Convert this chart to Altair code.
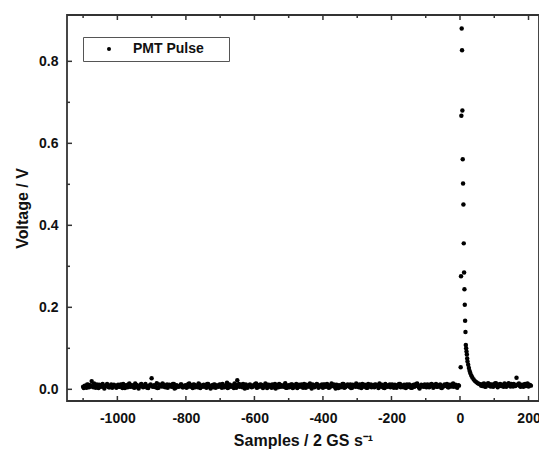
import altair as alt
import pandas as pd

# ---------------- data ----------------
series_name = "PMT Pulse"

# pre-trigger baseline, samples -1100 ... -5 every 5 samples, values in mV
baseline_start = -1100
baseline_step = 5
baseline_mv = [
    6, 9, 4, 11, 7, 20, 5, 8, 12, 3, 7, 10, 6, 9, 13, 5, 8, 4, 11, 7,
    9, 6, 12, 3, 8, 10, 5, 14, 7, 9, 4, 11, 6, 8, 13, 5, 10, 7, 3, 9,
    27, 6, 8, 15, 4, 9, 7, 11, 5, 12, 8, 10, 6, 13, 4, 9, 7, 12, 5, 8,
    10, 6, 14, 7, 3, 11, 8, 5, 12, 9, 6, 10, 4, 13, 7, 9, 5, 11, 8, 6,
    12, 4, 9, 7, 16, 5, 10, 8, 3, 11, 22, 13, 9, 5, 7, 12, 4, 10, 8, 6,
    9, 14, 5, 7, 11, 3, 8, 12, 6, 10, 4, 9, 13, 7, 5, 11, 8, 6, 15, 4,
    10, 7, 12, 5, 9, 3, 11, 8, 6, 13, 4, 10, 7, 9, 12, 5, 8, 11, 6, 9,
    4, 12, 7, 10, 5, 14, 8, 6, 11, 3, 9, 7, 13, 5, 10, 8, 12, 4, 9, 6,
    11, 5, 8, 13, 6, 10, 4, 9, 12, 7, 5, 11, 8, 14, 6, 9, 3, 10, 7, 12,
    6, 9, 11, 4, 8, 13, 7, 5, 10, 12, 6, 9, 4, 11, 8, 14, 5, 7, 10, 6,
    9, 12, 5, 8, 11, 7, 13, 6, 10, 4, 9, 12, 8, 5, 11, 7, 14, 9, 6, 10,
]
# second interleaved set, samples -1098 ... -3 every 5 samples, values in mV
baseline_b_start = -1098
baseline_b_mv = [
    3, 8, 12, 5, 10, 7, 14, 4, 9, 11, 6, 13, 2, 8, 10, 5, 12, 7, 9, 4,
    11, 6, 8, 13, 3, 9, 12, 6, 10, 5, 14, 7, 2, 11, 8, 6, 13, 4, 9, 12,
    7, 10, 5, 3, 12, 8, 14, 6, 9, 4, 11, 7, 13, 2, 10, 6, 8, 12, 5, 9,
    4, 13, 7, 10, 12, 5, 9, 14, 3, 8, 11, 6, 13, 7, 2, 10, 12, 4, 9, 11,
    7, 13, 5, 10, 3, 12, 6, 9, 14, 4, 8, 6, 11, 13, 2, 9, 7, 12, 5, 10,
    13, 4, 10, 12, 6, 9, 14, 3, 11, 7, 12, 5, 2, 10, 13, 6, 9, 11, 4, 8,
    5, 12, 3, 9, 13, 10, 6, 12, 4, 8, 11, 7, 14, 2, 6, 10, 13, 4, 9, 12,
    11, 6, 13, 4, 9, 8, 12, 2, 7, 10, 5, 13, 4, 9, 12, 6, 3, 11, 8, 14,
    6, 12, 3, 9, 11, 4, 13, 7, 5, 10, 12, 8, 3, 9, 11, 4, 13, 6, 10, 5,
    12, 4, 7, 10, 13, 5, 9, 11, 3, 8, 12, 4, 10, 6, 13, 9, 2, 11, 7, 12,
    5, 8, 11, 13, 4, 10, 6, 9, 12, 3, 7, 10, 13, 5, 8, 12, 6, 11, 4, 9,
]

# pulse samples (x) and voltages (V)
pulse_x = [2, 3, 4, 5, 6, 7, 8, 9, 10, 11, 12, 13, 14, 15, 16, 17, 18, 19, 20,
           21, 22, 24, 26, 28, 30, 33, 36, 40, 44, 48, 52, 56]
pulse_v = [0.054, 0.276, 0.667, 0.880, 0.827, 0.680, 0.561, 0.502, 0.451, 0.356,
           0.285, 0.244, 0.206, 0.167, 0.140, 0.108, 0.100, 0.092, 0.085, 0.075,
           0.068, 0.060, 0.052, 0.045, 0.040, 0.034, 0.029, 0.024, 0.020, 0.017,
           0.015, 0.013]

# post-pulse baseline, samples 60 ... 205 every 5 samples, values in mV
post_start = 60
post_step = 5
post_mv = [12, 8, 14, 6, 10, 13, 7, 11, 9, 15, 5, 12, 8, 10, 14, 6, 11, 9, 13, 7,
           10, 28, 12, 8, 11, 6, 13, 9, 7, 10]
# second interleaved set, samples 62 ... 202
post_b_start = 62
post_b_mv = [9, 13, 7, 11, 15, 8, 12, 6, 14, 10, 8, 13, 11, 6, 9, 12, 15, 7, 10, 13,
             8, 11, 14, 6, 10, 12, 8, 14, 11, 9]

# axis ticks
x_major = [-1000, -800, -600, -400, -200, 0, 200]
x_minor = [-1100, -900, -700, -500, -300, -100, 100]
y_major = [0.0, 0.2, 0.4, 0.6, 0.8]
y_minor = [0.1, 0.3, 0.5, 0.7]

x_domain = [-1147, 230.6]
y_domain = [-0.0285, 0.913]

FONT = "Liberation Sans"
TICK = "#333333"
W, H = 472, 386
MAJOR_LEN, MINOR_LEN = 5, 3   # inward tick lengths in pixels

# ---------------- tables ----------------
xs_all, ys_all = [], []
for start, vals in ((baseline_start, baseline_mv), (baseline_b_start, baseline_b_mv)):
    for i, v in enumerate(vals):
        xs_all.append(start + i * baseline_step)
        ys_all.append(v / 1000.0)
xs_all += pulse_x
ys_all += pulse_v
for start, vals in ((post_start, post_mv), (post_b_start, post_b_mv)):
    for i, v in enumerate(vals):
        xs_all.append(start + i * post_step)
        ys_all.append(v / 1000.0)

df = pd.DataFrame({"x": xs_all, "y": ys_all, "series": series_name})

# inward tick marks (bottom, top and left edges), placed through the scales
dy = (y_domain[1] - y_domain[0]) / H   # data units per pixel
dx = (x_domain[1] - x_domain[0]) / W
tick_rows = []
for vals, ln in ((x_major, MAJOR_LEN), (x_minor, MINOR_LEN)):
    for v in vals:
        tick_rows.append({"x": v, "x2": v, "y": y_domain[0], "y2": y_domain[0] + ln * dy})
        tick_rows.append({"x": v, "x2": v, "y": y_domain[1] - ln * dy, "y2": y_domain[1]})
for vals, ln in ((y_major, MAJOR_LEN), (y_minor, MINOR_LEN)):
    for v in vals:
        tick_rows.append({"x": x_domain[0], "x2": x_domain[0] + ln * dx, "y": v, "y2": v})
ticks_df = pd.DataFrame(tick_rows)

xs = alt.Scale(domain=x_domain, nice=False, zero=False)
ys = alt.Scale(domain=y_domain, nice=False, zero=False)

x_axis = alt.Axis(
    orient="bottom", values=x_major, ticks=False, domain=False, grid=False,
    labelPadding=10, labelExpr="datum.value + ''",
    labelFont=FONT, labelFontSize=14, labelFontWeight="bold", labelColor="#111",
    title="Samples / 2 GS s\u207b\u00b9", titleFont=FONT, titleFontSize=16,
    titleFontWeight="bold", titleColor="#111", titlePadding=7)
y_axis = alt.Axis(
    orient="left", values=y_major, format=".1f", ticks=False, domain=False,
    grid=False, labelPadding=9,
    labelFont=FONT, labelFontSize=14, labelFontWeight="bold", labelColor="#111",
    title="Voltage / V", titleFont=FONT, titleFontSize=16,
    titleFontWeight="bold", titleColor="#111", titlePadding=8)

points = alt.Chart(df).mark_circle(size=20, opacity=1).encode(
    x=alt.X("x:Q", scale=xs, axis=x_axis),
    y=alt.Y("y:Q", scale=ys, axis=y_axis),
    color=alt.Color("series:N", scale=alt.Scale(range=["black"]), legend=alt.Legend(
        title=None, orient="none", legendX=16, legendY=22, strokeColor="#555555",
        fillColor="white", padding=5, symbolType="circle", symbolSize=16,
        symbolOffset=14, labelFont=FONT, labelFontSize=14, labelFontWeight="bold",
        labelColor="#111", labelOffset=17,
        labelExpr="datum.label + '\u2800\u2800'")),
)

ticks = alt.Chart(ticks_df).mark_rule(color=TICK, strokeWidth=1.5).encode(
    x=alt.X("x:Q", scale=xs, axis=x_axis),
    x2="x2:Q",
    y=alt.Y("y:Q", scale=ys, axis=y_axis),
    y2="y2:Q",
)

chart = alt.layer(points, ticks).properties(
    width=W, height=H,
    autosize=alt.AutoSizeParams(type="none"),
    padding={"left": 67, "top": 15, "right": 0, "bottom": 57},
    background="white",
).configure_view(
    stroke="#333333", strokeWidth=1.8
).configure_legend(
    strokeWidth=1, cornerRadius=0
)

chart.save("out.html", embed_options={"renderer": "svg", "actions": False})
